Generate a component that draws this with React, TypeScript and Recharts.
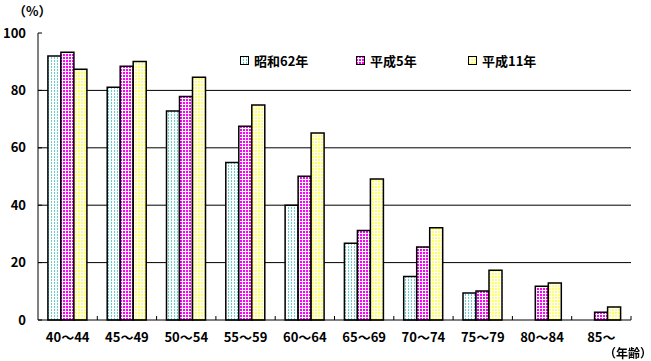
import React from 'react';
import { BarChart, Bar, XAxis, YAxis, CartesianGrid } from 'recharts';

const categories = ['40～44', '45～49', '50～54', '55～59', '60～64', '65～69', '70～74', '75～79', '80～84', '85～'];
const showa62 = [92.0, 81.1, 72.8, 54.9, 40.0, 26.7, 15.2, 9.4, null, null];
const heisei5 = [93.3, 88.4, 77.9, 67.5, 50.1, 31.2, 25.4, 10.1, 11.8, 2.7];
const heisei11 = [87.4, 90.1, 84.6, 74.9, 65.2, 49.1, 32.1, 17.3, 12.9, 4.5];
const seriesNames = ['昭和62年', '平成5年', '平成11年'];
const yTicks = [0, 20, 40, 60, 80, 100];
const gridValues = [20, 40, 60, 80];

const data = categories.map((c, i) => ({ cat: c, s1: showa62[i], s2: heisei5[i], s3: heisei11[i] }));

const W = 651;
const H = 361;
const M = { top: 33, right: 20, bottom: 11, left: 0 };
const YW = 38;
const XH = 30;
const FONT = '"Noto Sans CJK JP", "Noto Sans", sans-serif';
const bandW = (W - M.left - YW - M.right) / categories.length;

const fills = ['url(#patCyan)', 'url(#patMag)', 'url(#patYel)'];

const Patterns = () => (
  <svg width={0} height={0} style={{ position: 'absolute' }}>
    <defs>
      <pattern id="patCyan" width={3} height={3} patternUnits="userSpaceOnUse">
        <rect width={3} height={3} fill="#ffffff" shapeRendering="crispEdges" />
        <rect x={0} y={0} width={1} height={2} fill="#66cccc" shapeRendering="crispEdges" />
      </pattern>
      <pattern id="patMag" width={3} height={3} patternUnits="userSpaceOnUse">
        <rect width={3} height={3} fill="#ffffff" shapeRendering="crispEdges" />
        <rect x={0} y={0} width={2} height={2} fill="#ff00ff" shapeRendering="crispEdges" />
      </pattern>
      <pattern id="patYel" width={3} height={3} patternUnits="userSpaceOnUse">
        <rect width={3} height={3} fill="#ffffff" shapeRendering="crispEdges" />
        <rect x={0} y={0} width={2} height={2} fill="#ffff66" shapeRendering="crispEdges" />
      </pattern>
    </defs>
  </svg>
);

const XTick = (props: any) => {
  const { x, y, payload } = props;
  return (
    <g>
      <line x1={x + bandW / 2} x2={x + bandW / 2} y1={y} y2={y - 4} stroke="#000" strokeWidth={1} />
      <text x={x} y={y + 22} textAnchor="middle" fontFamily={FONT} fontWeight="bold" fontSize={13} fill="#000">
        {payload.value}
      </text>
    </g>
  );
};

const YTick = (props: any) => {
  const { x, y, payload } = props;
  return (
    <g>
      <line x1={x} x2={x + 4} y1={y} y2={y} stroke="#000" strokeWidth={1} />
      <text x={x - 12} y={y} dy="0.35em" textAnchor="end" fontFamily={FONT} fontWeight="bold" fontSize={13} fill="#000">
        {payload.value}
      </text>
    </g>
  );
};

const LegendBox = () => {
  const widths = [116, 112, 80];
  return (
    <div style={{ position: 'absolute', left: 240, top: 53, display: 'flex', flexDirection: 'row', alignItems: 'center' }}>
      {seriesNames.map((n, i) => (
        <div key={n} style={{ width: widths[i], display: 'flex', alignItems: 'center' }}>
          <svg width={9} height={9} style={{ marginRight: 5 }}>
            <rect x={0.5} y={0.5} width={8} height={8} fill={fills[i]} stroke="#000" strokeWidth={1} />
          </svg>
          <span style={{ fontFamily: FONT, fontWeight: 'bold', fontSize: 13, color: '#000', lineHeight: '15px' }}>{n}</span>
        </div>
      ))}
    </div>
  );
};

export default function App() {
  return (
    <div style={{ position: 'fixed', left: 0, top: 0, width: W, height: H, background: '#fff' }}>
      <Patterns />
      <BarChart width={W} height={H} data={data} margin={M} barCategoryGap="16.7%" barGap={0}>
        <CartesianGrid horizontal={true} vertical={false} horizontalValues={gridValues} stroke="#000" strokeWidth={1} />
        <XAxis dataKey="cat" height={XH} tickLine={false} tickSize={0} tickMargin={0} axisLine={{ stroke: '#000', strokeWidth: 1 }} tick={<XTick />} interval={0} />
        <YAxis width={YW} domain={[0, 100]} ticks={yTicks} tickLine={false} tickSize={0} tickMargin={0} axisLine={{ stroke: '#000', strokeWidth: 1 }} tick={<YTick />} interval={0} />
        <Bar dataKey="s1" name={seriesNames[0]} fill={fills[0]} stroke="#000" strokeWidth={1.5} isAnimationActive={false} />
        <Bar dataKey="s2" name={seriesNames[1]} fill={fills[1]} stroke="#000" strokeWidth={1.5} isAnimationActive={false} />
        <Bar dataKey="s3" name={seriesNames[2]} fill={fills[2]} stroke="#000" strokeWidth={1.5} isAnimationActive={false} />
      </BarChart>
      <div style={{ position: 'absolute', left: 13, top: 4, fontFamily: FONT, fontWeight: 'bold', fontSize: 13, lineHeight: '14px', color: '#000' }}>（%）</div>
      <div style={{ position: 'absolute', left: 604, top: 346, fontFamily: FONT, fontWeight: 'bold', fontSize: 12, lineHeight: '13px', color: '#000' }}>（年齢）</div>
      <LegendBox />
    </div>
  );
}
